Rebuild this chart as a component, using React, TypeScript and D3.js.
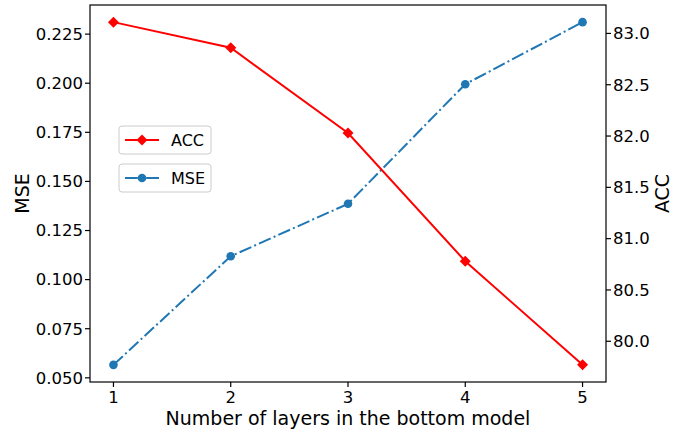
import * as d3 from "d3";
import React from "react";

const layers = [1, 2, 3, 4, 5];
const mse = [0.0566, 0.1119, 0.1386, 0.1995, 0.2311];
const acc = [83.11, 82.86, 82.03, 80.78, 79.77];
const mseTicks = [0.05, 0.075, 0.1, 0.125, 0.15, 0.175, 0.2, 0.225];
const accTicks = [80.0, 80.5, 81.0, 81.5, 82.0, 82.5, 83.0];

const W = 683,
  H = 429;
const margin = { top: 5, right: 77, bottom: 47, left: 90 };
const FONT = "DejaVu Sans, sans-serif";
const BLUE = "#1f77b4";
const RED = "#ff0000";

const pad = (lo: number, hi: number) => {
  const m = (hi - lo) * 0.05;
  return [lo - m, hi + m];
};

const App = () => {
  const x = d3
    .scaleLinear()
    .domain(pad(1, 5))
    .range([margin.left, W - margin.right]);
  const yL = d3
    .scaleLinear()
    .domain(pad(d3.min(mse)!, d3.max(mse)!))
    .range([H - margin.bottom, margin.top]);
  const yR = d3
    .scaleLinear()
    .domain(pad(d3.min(acc)!, d3.max(acc)!))
    .range([H - margin.bottom, margin.top]);

  const mseLine = d3
    .line<number>()
    .x((_, i) => x(layers[i]))
    .y((d) => yL(d));
  const accLine = d3
    .line<number>()
    .x((_, i) => x(layers[i]))
    .y((d) => yR(d));

  const x0 = margin.left,
    x1 = W - margin.right,
    y0 = margin.top,
    y1 = H - margin.bottom;
  const dash = "12.8,3.2,2,3.2";
  const diamond = (cx: number, cy: number, r = 5.5) =>
    `M${cx},${cy - r}L${cx + r},${cy}L${cx},${cy + r}L${cx - r},${cy}Z`;

  return (
    <svg
      width={W}
      height={H}
      style={{ position: "absolute", left: 0, top: 0, background: "#fff" }}
      fontFamily={FONT}
    >
      {/* MSE series */}
      <path d={mseLine(mse)!} fill="none" stroke={BLUE} strokeWidth={2} strokeDasharray={dash} />
      {mse.map((d, i) => (
        <circle key={i} cx={x(layers[i])} cy={yL(d)} r={4.3} fill={BLUE} />
      ))}
      {/* ACC series */}
      <path d={accLine(acc)!} fill="none" stroke={RED} strokeWidth={2} />
      {acc.map((d, i) => (
        <path key={i} d={diamond(x(layers[i]), yR(d))} fill={RED} />
      ))}

      {/* frame */}
      <rect x={x0} y={y0} width={x1 - x0} height={y1 - y0} fill="none" stroke="#000" strokeWidth={1.2} />

      {/* x axis */}
      {layers.map((t) => (
        <g key={t} transform={`translate(${x(t)},${y1})`}>
          <line y2={5} stroke="#000" strokeWidth={1.2} />
          <text y={21} textAnchor="middle" fontSize={16.5}>
            {t}
          </text>
        </g>
      ))}
      <text x={(x0 + x1) / 2} y={425} textAnchor="middle" fontSize={19}>
        Number of layers in the bottom model
      </text>

      {/* left axis */}
      {mseTicks.map((t) => (
        <g key={t} transform={`translate(${x0},${yL(t)})`}>
          <line x2={-5} stroke="#000" strokeWidth={1.2} />
          <text x={-7} dy="0.35em" textAnchor="end" fontSize={16.5}>
            {t.toFixed(3)}
          </text>
        </g>
      ))}
      <text transform={`translate(29,${(y0 + y1) / 2}) rotate(-90)`} textAnchor="middle" fontSize={19}>
        MSE
      </text>

      {/* right axis */}
      {accTicks.map((t) => (
        <g key={t} transform={`translate(${x1},${yR(t)})`}>
          <line x2={5} stroke="#000" strokeWidth={1.2} />
          <text x={7} dy="0.35em" textAnchor="start" fontSize={16.5}>
            {t.toFixed(1)}
          </text>
        </g>
      ))}
      <text transform={`translate(669,${(y0 + y1) / 2}) rotate(-90)`} textAnchor="middle" fontSize={19}>
        ACC
      </text>

      {/* legends */}
      <g transform="translate(119,126)">
        <rect width={92} height={28} rx={3} fill="#fff" fillOpacity={0.8} stroke="#cccccc" />
        <line x1={6} x2={40} y1={14} y2={14} stroke={RED} strokeWidth={2} />
        <path d={diamond(23, 14)} fill={RED} />
        <text x={52} y={14} dy="0.35em" fontSize={16}>
          ACC
        </text>
      </g>
      <g transform="translate(119,164)">
        <rect width={92} height={28} rx={3} fill="#fff" fillOpacity={0.8} stroke="#cccccc" />
        <line x1={6} x2={40} y1={14} y2={14} stroke={BLUE} strokeWidth={2} strokeDasharray={dash} />
        <circle cx={23} cy={14} r={4.3} fill={BLUE} />
        <text x={52} y={14} dy="0.35em" fontSize={16}>
          MSE
        </text>
      </g>
    </svg>
  );
};

export default App;
